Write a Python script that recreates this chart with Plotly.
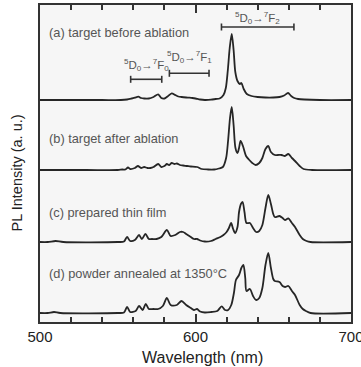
import plotly.graph_objects as go

# ---- data ----
wl_a = [500, 520, 540, 552, 556, 559, 561, 563.3, 565, 567, 570, 573, 576, 578, 580, 582, 584.7, 587, 589, 591, 594, 596, 598, 600, 603, 606, 610, 613, 615.5, 618, 619.5, 620.8, 622, 623.3, 624.5, 625.6, 627, 628.5, 629.5, 631, 633, 636, 640, 645, 650, 654, 657, 659.5, 661.5, 663.5, 666, 670, 680, 700]
in_a = [0, 0, 0, 0, 0.5, 1.5, 2.3, 3.3, 2, 1.5, 1.5, 3, 5.7, 2, 1.5, 3.5, 6.7, 5, 3.5, 3, 2.5, 2.3, 2, 1.5, 0.5, 0, 0.3, 1, 1.5, 5, 12, 30, 52, 66, 50, 28, 19, 16, 17, 11, 6, 4, 3, 2.5, 2.5, 3, 4.5, 7, 4, 2, 1, 0.5, 0, 0]

wl_b = [500, 530, 550, 553, 555, 556.6, 558, 561, 563, 565, 567, 569, 571, 573, 576, 578, 580, 581.6, 583, 584.7, 586.5, 588, 590, 592, 594.6, 597, 601, 604, 608, 612, 615, 617.6, 619.7, 621, 622.2, 623.3, 624.5, 625.7, 627, 628, 629, 630.5, 632.5, 634.6, 636.5, 638.7, 641, 643, 645, 646.8, 648.5, 651, 653, 655.4, 657.5, 659.7, 662, 664, 667, 669.5, 675, 700]
in_b = [0, 0, 0, 0.5, 0.5, 2.5, 1, 2, 4, 2, 3, 2, 2, 3, 6, 3, 4, 6, 5, 7, 6, 6.5, 5, 4.5, 4, 3.5, 3, 1, 0.5, 0.5, 1.5, 3, 12, 30, 52, 63, 45, 22, 17, 22, 29, 24, 14, 10, 7, 5, 7, 12, 21, 24, 18, 15, 15, 15, 14, 16, 12, 9, 4, 1, 0, 0]

wl_c = [500, 505, 510, 515, 550, 554, 556, 558, 561, 563.7, 565.5, 567.8, 570, 572, 575, 578, 581.6, 584, 587, 590, 592, 594, 597, 599, 601, 603, 606, 610, 613, 616, 618, 620, 621.5, 622.9, 624.2, 625.5, 627, 628, 629.2, 630.3, 631.5, 632.8, 635, 637, 639, 641, 643, 645, 646.8, 648.5, 650, 651, 654, 656, 657.6, 659.7, 662, 664, 667, 669, 671.4, 674, 700]
in_c = [0, 0, 1, 0, 0, 0.5, 5, 1, 2, 7, 3, 8, 3, 3, 3, 5, 12, 6, 7, 10, 10, 8, 5, 3, 3, 1.5, 0.5, 1, 3, 5, 7, 10, 14, 19, 13, 9, 15, 30, 38, 40, 30, 19, 19, 14, 10, 11, 17, 34, 47, 38, 28, 25, 26, 24, 22, 23.6, 19, 15, 7, 3, 1, 0, 0]

wl_d = [500, 505, 509, 513, 550, 554, 556, 558, 561.5, 563.7, 566, 568, 570, 573, 576, 579, 581.6, 584, 588, 591, 594, 597, 599, 601, 603, 606, 610, 614, 616.8, 619, 621, 623, 624.7, 626, 628, 629.5, 630.8, 632, 632.8, 635, 637, 639, 641, 643, 645, 646.8, 648.5, 650, 651, 654, 656, 657.6, 659.7, 662, 664, 667, 669, 671, 674, 700]
in_d = [0, 0, 1, 0, 0, 0.5, 6, 1, 2, 7, 3, 9, 4, 4, 4, 7, 15, 8, 8, 12, 8, 5, 3, 4, 1.5, 0.5, 1, 2, 6.6, 3, 3, 8, 20, 33, 38, 45, 48, 35, 22, 24, 17, 13, 15, 25, 48, 60, 45, 34, 32, 31, 27, 26, 27, 22, 18, 8, 4, 2, 0, 0]

labels = ["(a) target before ablation", "(b) target after ablation",
          "(c) prepared thin film", "(d) powder annealed at 1350\u00b0C"]
transitions = ["<sup>5</sup>D<sub>0</sub>\u2192<sup>7</sup>F<sub>0</sub>",
               "<sup>5</sup>D<sub>0</sub>\u2192<sup>7</sup>F<sub>1</sub>",
               "<sup>5</sup>D<sub>0</sub>\u2192<sup>7</sup>F<sub>2</sub>"]
trans_ranges = [(558.3, 578.3), (583.2, 608.7), (616.7, 663.3)]
x_title = "Wavelength (nm)"
y_title = "PL Intensity (a. u.)"

# ---- layout positions / styles ----
offsets = [222, 152, 80, 9]
label_y = [290, 184, 110, 49]
bracket_y = [242.7, 248.7, 295]
trans_label_y = [257, 265.5, 304]
line_col = "#262626"
text_col = "#555555"
FONT = "Liberation Sans, Arial"

fig = go.Figure()
for wl, inten, off in zip([wl_a, wl_b, wl_c, wl_d], [in_a, in_b, in_c, in_d], offsets):
    fig.add_trace(go.Scatter(x=wl, y=[v + off for v in inten], mode="lines",
                             line=dict(color=line_col, width=1.8, shape="spline", smoothing=0.8),
                             showlegend=False, hoverinfo="skip"))

for lab, ly in zip(labels, label_y):
    fig.add_annotation(x=504.5, y=ly, text=lab, showarrow=False, xanchor="left", yanchor="middle",
                       font=dict(family=FONT, size=12.8, color=text_col))

for (x0, x1), by, tl, ty in zip(trans_ranges, bracket_y, transitions, trans_label_y):
    fig.add_shape(type="line", x0=x0, x1=x1, y0=by, y1=by, line=dict(color="#333", width=1.6))
    for xx in (x0, x1):
        fig.add_shape(type="line", x0=xx, x1=xx, y0=by - 3.5, y1=by + 3.5, line=dict(color="#333", width=1.6))
    fig.add_annotation(x=(x0 + x1) / 2, y=ty, text=tl, showarrow=False, xanchor="center", yanchor="middle",
                       font=dict(family=FONT, size=11.5, color=text_col))

# axis titles (placed as in the reference, slightly off-centre)
fig.add_annotation(xref="paper", yref="paper", x=0.524, y=-0.111, text=x_title, showarrow=False,
                   xanchor="center", yanchor="middle", font=dict(family=FONT, size=16, color="#222"))
fig.add_annotation(xref="paper", yref="paper", x=-0.0755, y=0.47, text=y_title, showarrow=False,
                   textangle=-90, xanchor="center", yanchor="middle", font=dict(family=FONT, size=14.5, color="#222"))

fig.update_layout(
    width=361, height=367,
    margin=dict(l=40, r=10, t=5, b=45),
    paper_bgcolor="white", plot_bgcolor="#f6f6f6",
    font=dict(family=FONT, size=14, color="#222"),
)
fig.update_xaxes(range=[500, 700], tickmode="linear", tick0=500, dtick=100,
                 ticks="inside", ticklen=8, tickwidth=1.5, tickcolor="#333333",
                 showline=True, linecolor="#333333", linewidth=1.5, mirror="allticks",
                 showgrid=False, zeroline=False, ticklabeloverflow="allow", automargin=False,
                 minor=dict(dtick=20, ticks="inside", ticklen=5, tickwidth=1.5, tickcolor="#333333", showgrid=False),
                 tickfont=dict(size=15))
fig.update_yaxes(range=[0, 317], showticklabels=False, ticks="", showline=True, linecolor="#333333",
                 linewidth=1.5, mirror=True, showgrid=False, zeroline=False, automargin=False)

fig.write_html("out.html")
